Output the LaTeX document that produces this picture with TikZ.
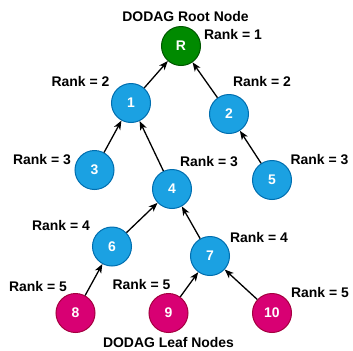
\documentclass[tikz,border=0pt]{standalone}
\usepackage{fontspec}
\setmainfont{Liberation Sans}
\usetikzlibrary{arrows.meta}
\definecolor{rootgreen}{HTML}{008A00}
\definecolor{rootline}{HTML}{005700}
\definecolor{midblue}{HTML}{1BA1E2}
\definecolor{midline}{HTML}{006EAF}
\definecolor{leafpink}{HTML}{D80073}
\definecolor{leafline}{HTML}{A50040}

\begin{document}
\begin{tikzpicture}[
  x=1bp, y=-1bp,
  font=\fontsize{14}{16}\selectfont\bfseries,
  dev/.style={circle, draw, line width=1bp, minimum size=39bp, inner sep=0pt,
              text=white},
  root/.style={dev, fill=rootgreen, draw=rootline},
  mid/.style={dev, fill=midblue, draw=midline},
  leaf/.style={dev, fill=leafpink, draw=leafline},
  rank/.style={inner sep=0pt},
  arr/.style={-{Stealth[length=9bp, width=7bp, inset=2.5bp]}, line width=1.3bp}]
\useasboundingbox (0,0) rectangle (353,351);

% root
\node[root] (R) at (181,46) {R};
\node[rank] (lroot) at (185.5,17) {DODAG Root Node};
\node[rank] (rR) at (233,35) {Rank = 1};

% rank 2 and 3
\node[mid] (n1) at (131,103) {1};
\node[mid] (n2) at (229,114) {2};
\node[mid] (n3) at (94.5,170) {3};
\node[mid] (n4) at (172,189) {4};
\node[mid] (n5) at (272,180) {5};
\node[rank] (r1) at (80.5,82) {Rank = 2};
\node[rank] (r2) at (262,82) {Rank = 2};
\node[rank] (r3) at (42,160) {Rank = 3};
\node[rank] (r4) at (209,162) {Rank = 3};
\node[rank] (r5) at (319.5,160) {Rank = 3};

% rank 4 and 5
\node[mid] (n6) at (112,246.5) {6};
\node[mid] (n7) at (210,256) {7};
\node[leaf] (n8) at (75.5,313) {8};
\node[leaf] (n9) at (168.5,313) {9};
\node[leaf] (n10) at (272,313) {10};
\node[rank] (r6) at (61,226) {Rank = 4};
\node[rank] (r7) at (259,238) {Rank = 4};
\node[rank] (r8) at (38,287) {Rank = 5};
\node[rank] (r9) at (141.5,285) {Rank = 5};
\node[rank] (r10) at (320,293) {Rank = 5};
\node[rank] (lleaf) at (168.5,343) {DODAG Leaf Nodes};

\foreach \a/\b in {n1/R, n2/R, n3/n1, n4/n1, n5/n2, n6/n4, n7/n4, n8/n6, n9/n7, n10/n7}
  \draw[arr] (\a) -- (\b);
\end{tikzpicture}
\end{document}
